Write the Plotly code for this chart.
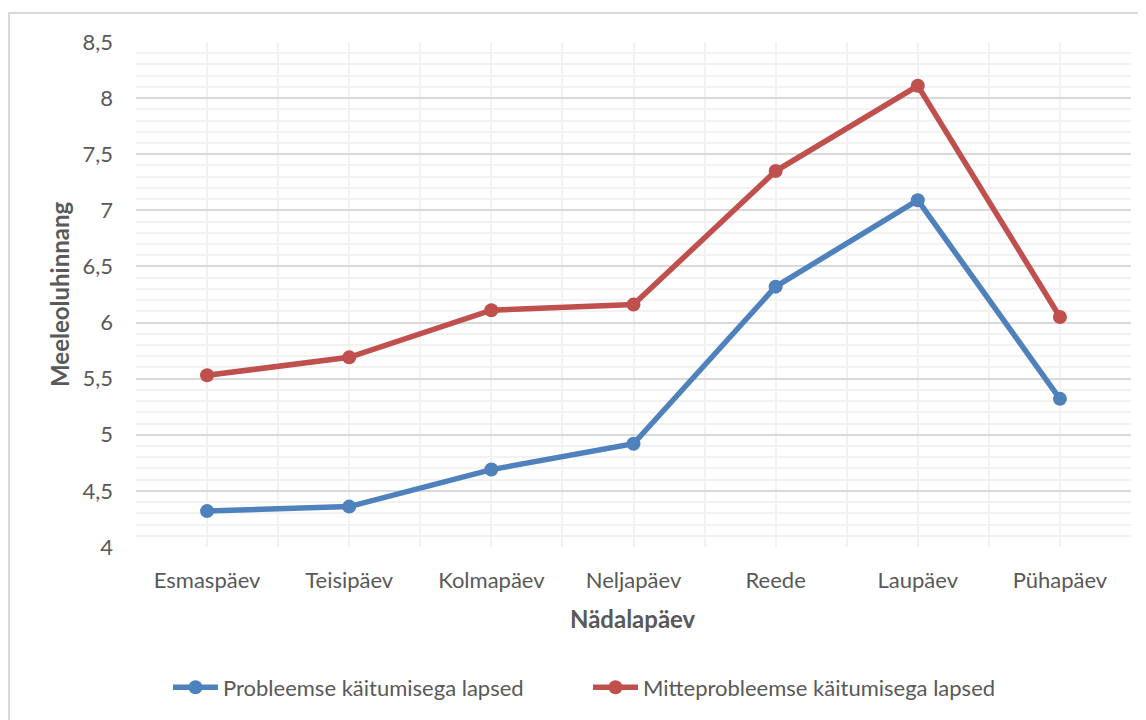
import plotly.graph_objects as go

days = ["Esmaspäev", "Teisipäev", "Kolmapäev", "Neljapäev", "Reede", "Laupäev", "Pühapäev"]
problem = [4.32, 4.36, 4.69, 4.92, 6.32, 7.09, 5.32]
nonproblem = [5.53, 5.69, 6.11, 6.16, 7.35, 8.11, 6.05]
series_names = ["Probleemse käitumisega lapsed", "Mitteprobleemse käitumisega lapsed"]
colors = ["#4F81BD", "#C0504D"]

FONT = "Lato"
TXT = "#595959"
OFF = 8  # page body margin
W, H = 1146 - OFF, 720 - OFF
PL, PR, PT, PB = 136, 1131, 42, 549  # plot area in page pixels
L, T = PL - OFF, PT - OFF
R = W - (PR - OFF)
B = H - (PB - OFF)
pw, ph = PR - PL, PB - PT


def px(xp):
    return (xp - PL) / pw


def py(yp):
    return (PB - yp) / ph


x = list(range(len(days)))
fig = go.Figure()
for vals, name, c in zip([problem, nonproblem], series_names, colors):
    fig.add_trace(go.Scatter(
        x=x, y=vals, name=name, mode="lines+markers",
        line=dict(color=c, width=5.5), marker=dict(color=c, size=14),
    ))

fig.update_layout(
    width=W, height=H,
    margin=dict(l=L, r=R, t=T, b=B),
    paper_bgcolor="white", plot_bgcolor="white",
    separators=", ",
    font=dict(family=FONT, color=TXT, size=22),
    showlegend=True,
    legend=dict(orientation="h", x=px(168), xanchor="left", y=py(690), yanchor="middle",
                font=dict(family=FONT, size=22, color=TXT),
                itemwidth=45,
                entrywidth=360, entrywidthmode="pixels",
                traceorder="normal"),
    xaxis=dict(
        range=[-0.5, len(days) - 0.5], tickvals=x, ticktext=days,
        showgrid=True, gridcolor="#f2f2f2", gridwidth=2,
        minor=dict(tick0=-0.5, dtick=1, showgrid=True, gridcolor="#f2f2f2", gridwidth=2),
        zeroline=False, showline=False, ticks="", ticklabelstandoff=18,
        tickfont=dict(family=FONT, size=22, color=TXT),
    ),
    yaxis=dict(
        range=[4, 8.5], dtick=0.5, tick0=4,
        showgrid=True, gridcolor="#d9d9d9", gridwidth=2,
        minor=dict(dtick=0.1, showgrid=True, gridcolor="#f2f2f2", gridwidth=2),
        zeroline=False, showline=False, ticks="", ticklabelstandoff=22,
        tickfont=dict(family=FONT, size=22, color=TXT),
    ),
    annotations=[
        dict(text="<b>Nädalapäev</b>", xref="paper", yref="paper",
             x=px(633), y=py(621), xanchor="center", yanchor="middle",
             showarrow=False, font=dict(family=FONT, size=24, color=TXT)),
        dict(text="<b>Meeleoluhinnang</b>", xref="paper", yref="paper",
             x=px(60), y=py(296), xanchor="center", yanchor="middle",
             textangle=-90, showarrow=False, font=dict(family=FONT, size=24, color=TXT)),
    ],
    shapes=[
        dict(type="rect", xref="paper", yref="paper",
             x0=px(9), x1=px(1170), y0=py(760), y1=py(13),
             line=dict(color="#d9d9d9", width=2), fillcolor="rgba(0,0,0,0)", layer="below"),
    ],
)

fig.write_html("out.html")
